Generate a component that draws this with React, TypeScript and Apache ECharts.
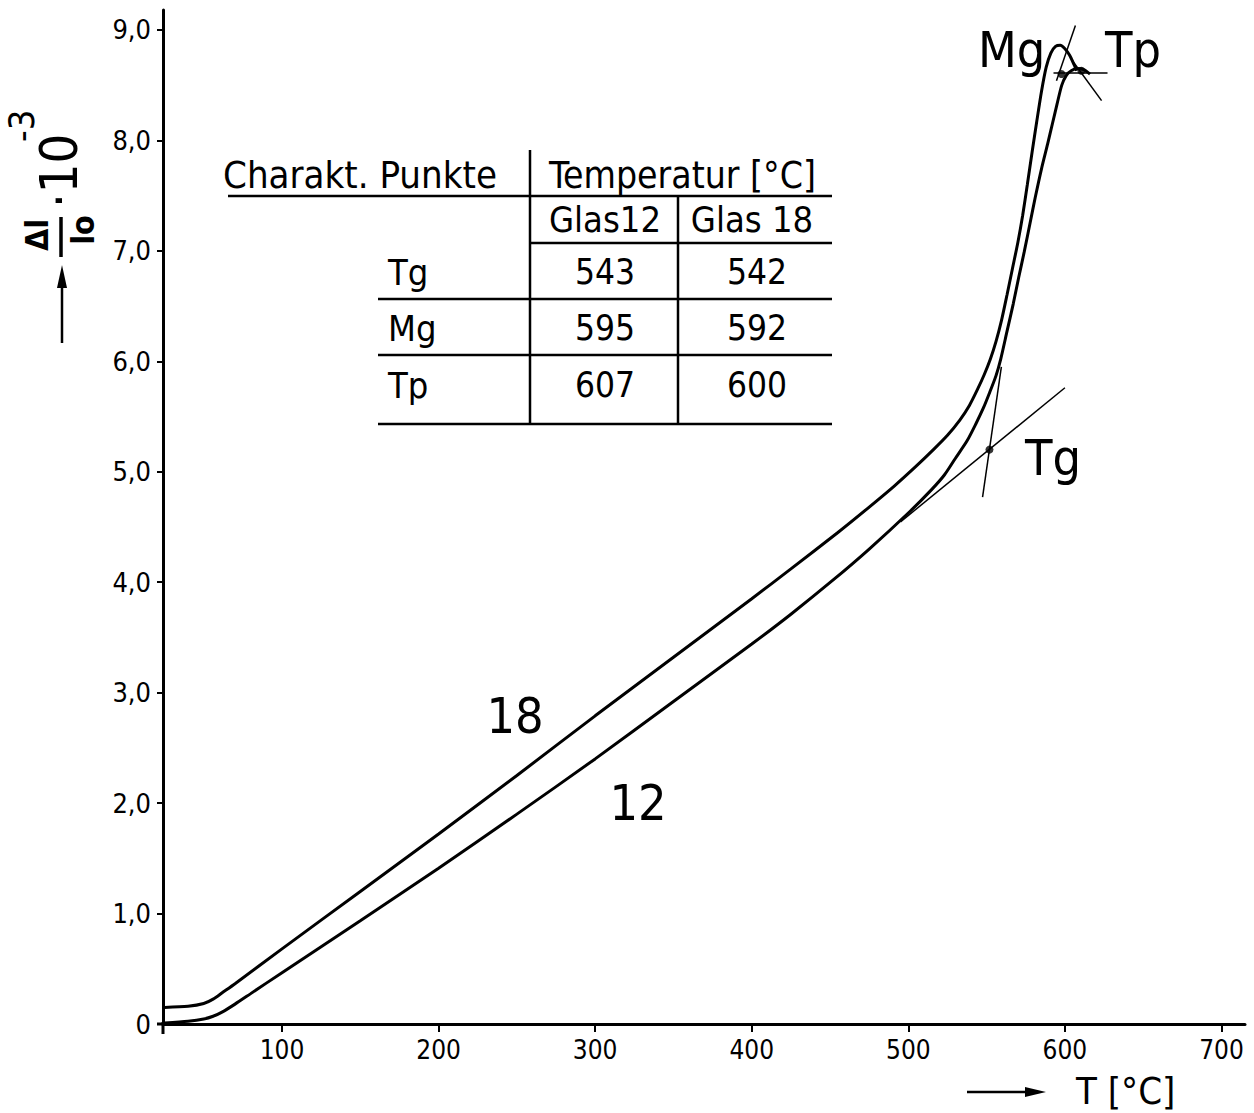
import React, { useEffect, useRef } from "react";
import * as echarts from "echarts";

// ---- data ----
const temp18 = [25, 40, 50, 56, 62, 70, 100, 150, 200, 250, 300, 350, 400, 425, 455, 475, 491, 505, 516, 525, 533, 539, 544, 548.5, 552.4, 556, 559.5, 563, 566.5, 570, 573, 576, 579, 582, 585, 588, 591, 594, 597, 600, 603, 606, 607.5];
const dl18 = [0.15, 0.16, 0.185, 0.225, 0.285, 0.365, 0.68, 1.2, 1.72, 2.25, 2.79, 3.32, 3.85, 4.12, 4.45, 4.68, 4.87, 5.05, 5.2, 5.33, 5.47, 5.6, 5.74, 5.88, 6.02, 6.18, 6.37, 6.6, 6.84, 7.08, 7.32, 7.6, 7.89, 8.17, 8.44, 8.66, 8.79, 8.85, 8.86, 8.83, 8.77, 8.68, 8.63];

const temp12 = [25, 40, 50, 56, 62, 70, 80, 100, 150, 200, 250, 300, 350, 400, 425, 452, 475, 501, 515, 523, 530, 537.5, 543, 548, 552, 556, 559, 563, 567, 570.5, 574, 578, 581, 585, 589, 592, 595, 598, 601, 604, 608, 612, 616];
const dl12 = [0.01, 0.025, 0.045, 0.07, 0.11, 0.18, 0.275, 0.465, 0.935, 1.41, 1.9, 2.4, 2.92, 3.44, 3.71, 4.02, 4.3, 4.64, 4.84, 4.97, 5.12, 5.28, 5.43, 5.58, 5.72, 5.87, 6.02, 6.27, 6.52, 6.76, 6.99, 7.27, 7.48, 7.74, 7.97, 8.15, 8.33, 8.5, 8.59, 8.63, 8.65, 8.64, 8.6];

// construction lines (T, value)
const tgTangentShallow = [[495, 4.546], [600, 5.76]];
const tgTangentSteep = [[547.4, 4.77], [559.4, 5.95]];
const tpLineA = [[594.6, 8.54], [606.7, 9.04]];
const tpLineB = [[592.7, 8.61], [627.2, 8.61]];
const tpLineC = [[604.8, 8.72], [623.4, 8.36]];
const tgPoint = [[551.8, 5.2]];
const tpPoints = [[597.8, 8.6], [610.5, 8.63]];

const xTicks = [100, 200, 300, 400, 500, 600, 700];
const yTicks = [0, 1, 2, 3, 4, 5, 6, 7, 8, 9];

const tableHeader = ["Charakt. Punkte", "Temperatur [°C]"];
const tableSubHeader = ["Glas12", "Glas 18"];
const tableRowLabels = ["Tg", "Mg", "Tp"];
const glas12Temps = [543, 595, 607];
const glas18Temps = [542, 592, 600];

const FONT = '"Liberation Sans Narrow", "DejaVu Sans Condensed", "Roboto Condensed", "DejaVu Sans", sans-serif';

const zip = (a: number[], b: number[]) => a.map((t, i) => [t, b[i]]);

export default function App() {
  const ref = useRef<HTMLDivElement>(null);
  useEffect(() => {
    if (!ref.current) return;
    const chart = echarts.init(ref.current, null, { renderer: "svg" });

    const txt = (x: number, y: number, text: string, size: number, align = "left", vAlign = "middle", extra: any = {}) => ({
      type: "text",
      x, y,
      style: { text, fontSize: size, fontFamily: FONT, fill: "#000", textAlign: align, textVerticalAlign: vAlign, ...extra },
      silent: true,
    });
    const ln = (x1: number, y1: number, x2: number, y2: number, w = 2.5) => ({
      type: "line",
      shape: { x1, y1, x2, y2 },
      style: { stroke: "#000", lineWidth: w },
      silent: true,
    });

    const rowY = [272, 328, 385];
    const tableGraphics: any[] = [
      txt(223, 175, tableHeader[0], 38),
      txt(549, 175, tableHeader[1], 37),
      ln(228, 196, 832, 196),
      ln(530, 150, 530, 424),
      ln(530, 243, 832, 243),
      ln(678, 196, 678, 424),
      ln(378, 299, 832, 299),
      ln(378, 355, 832, 355),
      ln(378, 424, 832, 424),
      txt(605, 219, tableSubHeader[0], 36, "center"),
      txt(752, 219, tableSubHeader[1], 36, "center"),
    ];
    tableRowLabels.forEach((lab, i) => {
      tableGraphics.push(txt(388, rowY[i], lab, 36));
      tableGraphics.push(txt(605, rowY[i], String(glas12Temps[i]), 35, "center"));
      tableGraphics.push(txt(757, rowY[i], String(glas18Temps[i]), 35, "center"));
    });

    const yName = {
      type: "group",
      x: 61,
      y: 260,
      rotation: Math.PI / 2,
      children: [
        { type: "line", shape: { x1: 3, y1: 0, x2: 43, y2: 0 }, style: { stroke: "#000", lineWidth: 3.5 } },
        { type: "text", x: 25, y: -8, style: { text: "Δl", fontSize: 32, fontWeight: "bold", fontFamily: FONT, fill: "#000", textAlign: "center", textVerticalAlign: "bottom" } },
        { type: "text", x: 30, y: 6, style: { text: "lo", fontSize: 32, fontWeight: "bold", fontFamily: FONT, fill: "#000", textAlign: "center", textVerticalAlign: "top" } },
        { type: "text", x: 52, y: -2, style: { text: "·10", fontSize: 52, fontFamily: FONT, fill: "#000", textAlign: "left", textVerticalAlign: "middle" } },
        { type: "text", x: 118, y: -40, style: { text: "-3", fontSize: 36, fontFamily: FONT, fill: "#000", textAlign: "left", textVerticalAlign: "middle" } },
      ],
    };

    const graphics: any[] = [
      ...tableGraphics,
      yName,
      ln(62, 343, 62, 284, 2.5),
      { type: "polygon", shape: { points: [[62, 265], [57, 288], [67, 288]] }, style: { fill: "#000" }, silent: true },
      ln(967, 1092, 1030, 1092, 2.5),
      { type: "polygon", shape: { points: [[1046, 1092], [1025, 1087], [1025, 1097]] }, style: { fill: "#000" }, silent: true },
      txt(1076, 1091, "T [°C]", 38),
      ln(157, 1024, 165, 1024, 3),
      ln(163, 1022, 163, 1034, 3),
      txt(515, 716, "18", 50, "center"),
      txt(638, 803, "12", 50, "center"),
      txt(1025, 458, "Tg", 50),
      txt(978, 50, "Mg", 50),
      txt(1105, 50, "Tp", 50),
    ];

    const thin = (data: number[][]) => ({
      type: "line",
      data,
      symbol: "none",
      silent: true,
      lineStyle: { color: "#000", width: 1.5 },
      z: 3,
    });

    chart.setOption({
      animation: false,
      backgroundColor: "#fff",
      grid: { left: 163, right: 9, top: 10, bottom: 89 },
      xAxis: {
        type: "value",
        min: 24,
        max: 715,
        axisLine: { lineStyle: { color: "#000", width: 3 } },
        axisTick: { show: true, customValues: xTicks, length: 8, lineStyle: { color: "#000", width: 2 } },
        axisLabel: { customValues: xTicks, color: "#000", fontSize: 26, fontFamily: FONT, margin: 13 },
        splitLine: { show: false },
      },
      yAxis: {
        type: "value",
        min: 0,
        max: 9.18,
        axisLine: { show: true, lineStyle: { color: "#000", width: 3 } },
        axisTick: { show: true, customValues: yTicks, length: 6, lineStyle: { color: "#000", width: 2 } },
        axisLabel: {
          customValues: yTicks,
          color: "#000",
          fontSize: 27,
          fontFamily: FONT,
          margin: 12,
          formatter: (v: number) => (v === 0 ? "0" : v.toFixed(1).replace(".", ",")),
        },
        splitLine: { show: false },
      },
      series: [
        { name: "18", type: "line", data: zip(temp18, dl18), smooth: 0.25, symbol: "none", lineStyle: { color: "#000", width: 3 }, z: 4 },
        { name: "12", type: "line", data: zip(temp12, dl12), smooth: 0.25, symbol: "none", lineStyle: { color: "#000", width: 3 }, z: 4 },
        thin(tgTangentShallow),
        thin(tgTangentSteep),
        thin(tpLineA),
        thin(tpLineB),
        thin(tpLineC),
        { type: "scatter", data: tgPoint, symbolSize: 8, itemStyle: { color: "#000" }, z: 5 },
        { type: "scatter", data: tpPoints, symbolSize: 8, itemStyle: { color: "#000" }, z: 5 },
      ],
      graphic: graphics,
    });
    return () => chart.dispose();
  }, []);
  return <div ref={ref} style={{ position: "absolute", left: 0, top: 0, width: 1254, height: 1113 }} />;
}
